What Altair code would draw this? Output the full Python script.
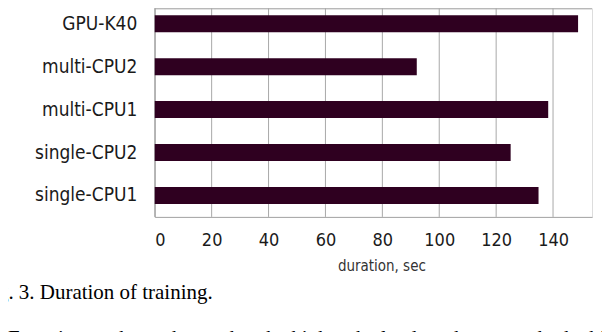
import altair as alt
import pandas as pd

# ---- data ----
categories = ["GPU-K40", "multi-CPU2", "multi-CPU1", "single-CPU2", "single-CPU1"]
durations = [148.8, 92.1, 138.3, 125.1, 134.9]
x_ticks = [0, 20, 40, 60, 80, 100, 120, 140]
x_title = "duration, sec"
caption = ["Fig. 3. Duration of training."]
next_line = ["Experiments have shown that the higher the load on the network, the higher the share of CPU"]

df = pd.DataFrame({"device": categories, "duration": durations})
ticks_df = pd.DataFrame({"tick": x_ticks})

W = 438
H = 209
BAR = "#2F0020"
GRID = "#A8A8A8"
SANS = "Liberation Sans Narrow, DejaVu Sans Condensed, Liberation Sans, sans-serif"

xscale = alt.Scale(domain=[0, 153.7], nice=False, zero=True)

grid = alt.Chart(ticks_df).mark_rule(color=GRID, strokeWidth=1).encode(
    x=alt.X("tick:Q", scale=xscale),
    y=alt.value(0),
    y2=alt.value(H),
)

bars = alt.Chart(df).mark_bar(color=BAR, size=17).encode(
    x=alt.X(
        "duration:Q",
        scale=xscale,
        axis=alt.Axis(
            values=x_ticks,
            title=x_title,
            grid=False,
            domain=True,
            domainColor=GRID,
            domainWidth=1,
            ticks=False,
            tickSize=0,
            labelPadding=15,
            labelFont=SANS,
            labelFontSize=18,
            labelColor="#1a1a1a",
            titleFont=SANS,
            titleFontSize=15,
            titleFontWeight="normal",
            titleColor="#333333",
            titleX=227,
            titleY=49,
            titleBaseline="middle",
        ),
    ),
    y=alt.Y(
        "device:N",
        sort=categories,
        scale=alt.Scale(range=[-6, 209]),
        axis=alt.Axis(
            title=None,
            ticks=False,
            tickSize=0,
            grid=False,
            domain=True,
            domainColor=GRID,
            domainWidth=1,
            labelPadding=18,
            labelFont=SANS,
            labelFontSize=19,
            labelColor="#1a1a1a",
            labelLimit=300,
        ),
    ),
)

top_line = alt.Chart(pd.DataFrame({"k": [0]})).mark_rule(color=GRID, strokeWidth=1).encode(
    x=alt.value(0), x2=alt.value(W), y=alt.value(0.5)
)

cap = alt.Chart(pd.DataFrame({"t": caption})).mark_text(
    align="right", baseline="alphabetic", font="Liberation Serif", fontSize=21, color="#000000"
).encode(text="t:N", x=alt.value(58), y=alt.value(291))

cut = alt.Chart(pd.DataFrame({"t": next_line})).mark_text(
    align="left", baseline="alphabetic", font="Liberation Serif", fontSize=21, color="#000000"
).encode(text="t:N", x=alt.value(-147), y=alt.value(337))

chart = alt.layer(grid, bars, top_line, cap, cut).properties(
    width=W,
    height=H,
    padding={"left": 147, "top": 0, "right": 10, "bottom": 115},
    autosize="none",
).configure_view(stroke=None).configure(background="white")

chart.save("out.html", embed_options={"renderer": "svg", "actions": False})
